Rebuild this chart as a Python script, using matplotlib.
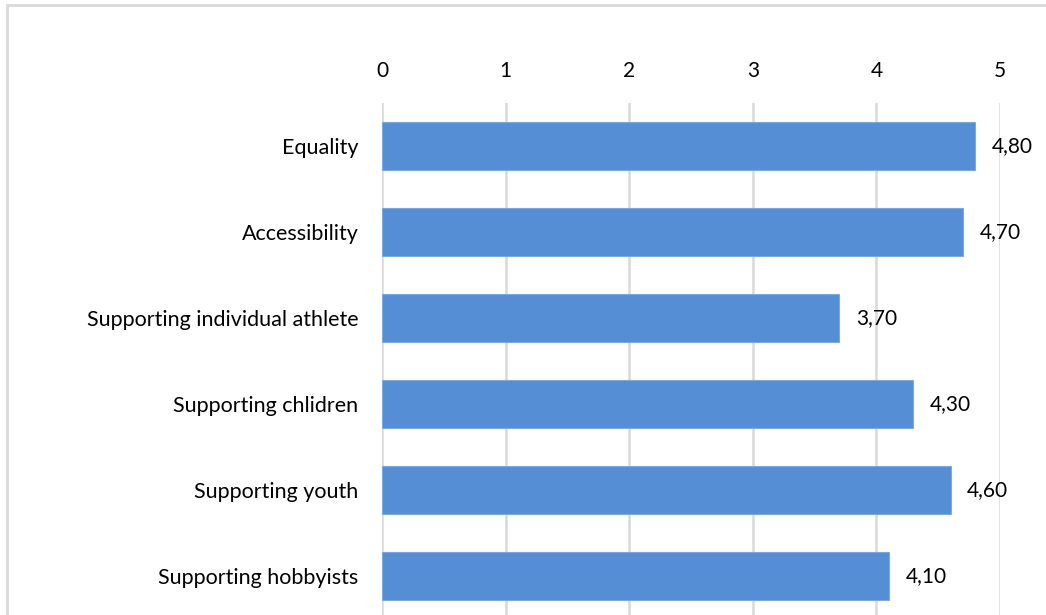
import matplotlib.pyplot as plt
from matplotlib.patches import Rectangle

categories = ['Equality', 'Accessibility', 'Supporting individual athlete',
              'Supporting chlidren', 'Supporting youth', 'Supporting hobbyists']
values = [4.80, 4.70, 3.70, 4.30, 4.60, 4.10]
ticks = [0, 1, 2, 3, 4, 5]

plt.rcParams['font.family'] = ['Lato', 'DejaVu Sans']

W, H = 1046, 615
fig = plt.figure(figsize=(W / 100, H / 100), dpi=100)
ax = fig.add_axes([382 / W, 0, (1000 - 382) / W, (615 - 103) / H])

y = list(range(len(categories)))
ax.barh(y, values, height=0.56, color='#558ED5', edgecolor='#7FA8DC', linewidth=0.8, zorder=3)
ax.set_xlim(0, 5)
ax.set_ylim(5.45, -0.5)
ax.set_yticks(y)
ax.set_yticklabels(categories, fontsize=15.5)
ax.set_xticks(ticks)
ax.set_xticklabels([str(t) for t in ticks], fontsize=15)
ax.xaxis.tick_top()
ax.tick_params(axis='x', length=0, pad=16)
ax.tick_params(axis='y', length=0, pad=17)
ax.grid(axis='x', color='#D9D9D9', linewidth=1.8, zorder=0)
for s in ax.spines.values():
    s.set_visible(False)

for yi, v in zip(y, values):
    ax.text(v + 0.135, yi, f'{v:.2f}'.replace('.', ','), va='center', ha='left', fontsize=15)

fig.patches.append(Rectangle((7 / W, -0.1), 1.2, (615 - 5) / H + 0.1, transform=fig.transFigure,
                             fill=False, edgecolor='#D9D9D9', linewidth=2))

fig.savefig('out.png', dpi=100)
